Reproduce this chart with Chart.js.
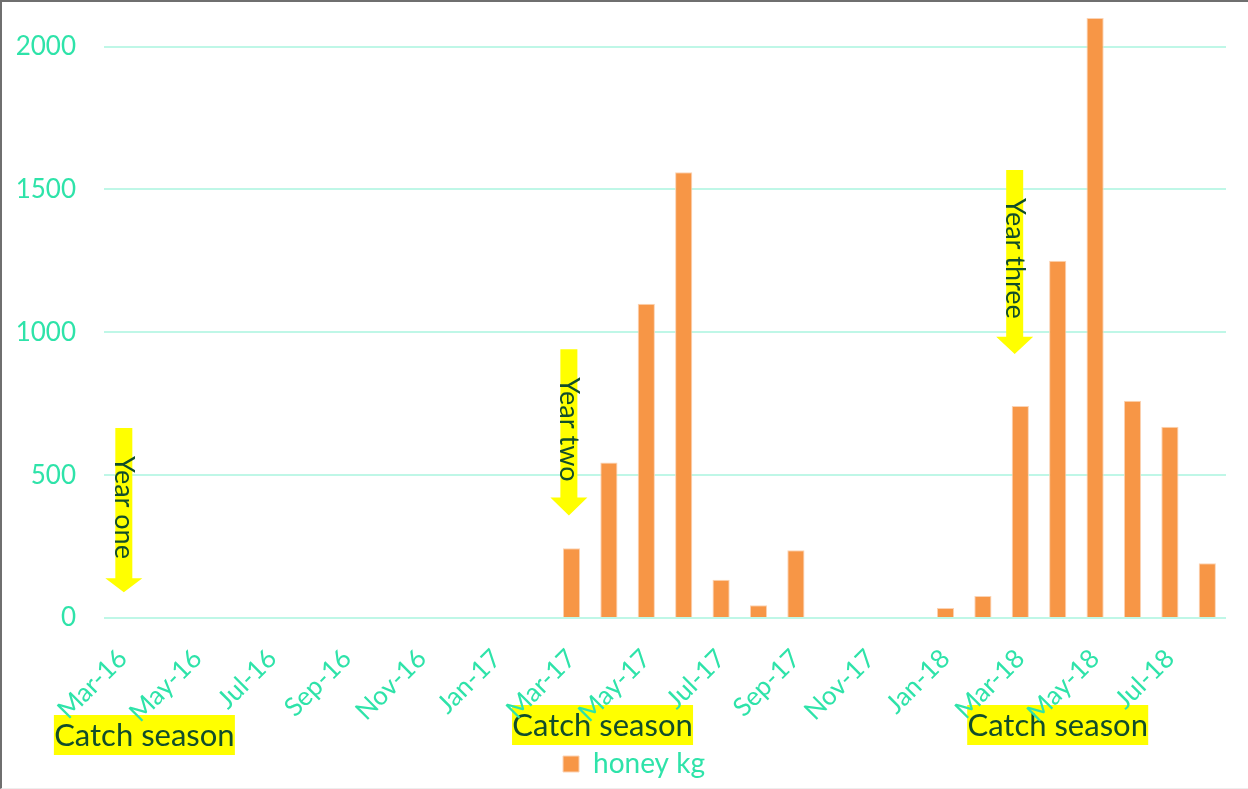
<!DOCTYPE html>
<html>
<head>
<meta charset="utf-8">
<script src="https://cdn.jsdelivr.net/npm/chart.js@4/dist/chart.umd.min.js"></script>
<style>
  html, body { margin: 0; padding: 0; background: #ffffff; }
  #wrap { position: relative; width: 1248px; height: 789px; box-sizing: border-box;
          border-top: 2px solid #6f6f6f; border-left: 2px solid #6f6f6f; border-bottom: 1px solid #eeeeee; }
  canvas { display: block; }
</style>
</head>
<body>
<div id="wrap"><canvas id="c" width="1246" height="786"></canvas></div>
<script>
// Monthly honey harvest, March 2016 to August 2018
const months = ['Mar-16','Apr-16','May-16','Jun-16','Jul-16','Aug-16','Sep-16','Oct-16','Nov-16','Dec-16','Jan-17','Feb-17',
                'Mar-17','Apr-17','May-17','Jun-17','Jul-17','Aug-17','Sep-17','Oct-17','Nov-17','Dec-17','Jan-18','Feb-18',
                'Mar-18','Apr-18','May-18','Jun-18','Jul-18','Aug-18'];
const honeyKg = [0,0,0,0,0,0,0,0,0,0,0,0,
                 244,544,1100,1560,134,45,237,0,0,0,35,77,
                 742,1250,2100,760,669,192];
const yTicks = [0, 500, 1000, 1500, 2000];

// Year markers: arrow at a month (category index), spanning values
const yearArrows = [
  { label: 'Year one',   at: 0.03,  from: 665,  headAt: 139, to: 90 },
  { label: 'Year two',   at: 11.93, from: 941,  headAt: 422, to: 359 },
  { label: 'Year three', at: 23.85, from: 1568, headAt: 984, to: 924 }
];
// Season callouts under the month axis
const seasonNotes = [
  { label: 'Catch season', at: 0.58,  drop: 97 },
  { label: 'Catch season', at: 12.83, drop: 87 },
  { label: 'Catch season', at: 25.0,  drop: 87 }
];

const TEAL = '#2ee3a9';
const GRID = '#bff7e7';
const INK  = '#114d2b';
const FONT = 'Lato, "Open Sans", sans-serif';

const annotate = {
  id: 'annotate',
  beforeDraw(chart) {
    const { ctx } = chart;
    ctx.save();
    ctx.fillStyle = '#ffffff';
    ctx.fillRect(0, 0, chart.width, chart.height);
    // season callouts sit behind the rotated month labels
    const xs = chart.scales.x;
    const base = chart.chartArea.bottom;
    ctx.font = '31px ' + FONT;
    ctx.textAlign = 'center';
    ctx.textBaseline = 'middle';
    seasonNotes.forEach(n => {
      const cx = xs.getPixelForValue(n.at);
      const w = 181, h = 40;
      const top = base + n.drop;
      ctx.fillStyle = '#ffff00';
      ctx.fillRect(cx - w / 2, top, w, h);
      ctx.fillStyle = INK;
      ctx.fillText(n.label, cx, top + h / 2 + 1);
    });
    ctx.restore();
  },
  beforeDatasetsDraw(chart) {
    const { ctx } = chart;
    const xs = chart.scales.x, ys = chart.scales.y;
    const shaft = 17, head = 37;
    ctx.save();
    yearArrows.forEach(a => {
      const cx = xs.getPixelForValue(a.at);
      const yTop = ys.getPixelForValue(a.from);
      const yHead = ys.getPixelForValue(a.headAt);
      const yTip = ys.getPixelForValue(a.to);
      ctx.fillStyle = '#ffff00';
      ctx.beginPath();
      ctx.moveTo(cx - shaft / 2, yTop);
      ctx.lineTo(cx + shaft / 2, yTop);
      ctx.lineTo(cx + shaft / 2, yHead);
      ctx.lineTo(cx + head / 2, yHead);
      ctx.lineTo(cx, yTip);
      ctx.lineTo(cx - head / 2, yHead);
      ctx.lineTo(cx - shaft / 2, yHead);
      ctx.closePath();
      ctx.fill();
      // vertical label, clipped to its text box inside the shaft
      ctx.save();
      ctx.beginPath();
      ctx.rect(cx - 30, yTop, 60, (yHead - 16) - yTop);
      ctx.clip();
      ctx.translate(cx, yTop + 28);
      ctx.rotate(Math.PI / 2);
      ctx.font = '27px ' + FONT;
      ctx.fillStyle = INK;
      ctx.textAlign = 'left';
      ctx.textBaseline = 'middle';
      ctx.fillText(a.label, 0, 0);
      ctx.restore();
    });
    ctx.restore();
  },
  afterLayout(chart) {
    // nudge the legend to the right
    chart.legend.left += 40;
  }
};

new Chart(document.getElementById('c'), {
  type: 'bar',
  data: {
    labels: months,
    datasets: [{
      label: 'honey kg',
      data: honeyKg,
      backgroundColor: '#f79646',
      borderColor: '#fbd3b4',
      borderWidth: 1,
      barPercentage: 0.46,
      categoryPercentage: 1.0
    }]
  },
  options: {
    responsive: false,
    animation: false,
    layout: { autoPadding: false, padding: { top: 16, right: 22, bottom: 0, left: 0 } },
    plugins: {
      legend: {
        position: 'bottom',
        labels: {
          color: TEAL,
          font: { family: FONT, size: 28 },
          boxWidth: 16, boxHeight: 16, padding: 10
        }
      },
      tooltip: { enabled: false }
    },
    scales: {
      x: {
        grid: { display: false },
        border: { display: false },
        ticks: {
          autoSkip: false,
          maxRotation: 45, minRotation: 45,
          color: TEAL,
          font: { family: FONT, size: 26 },
          padding: 17,
          callback: function (v, i) { return i % 2 === 0 ? months[i] : ''; }
        },
        afterFit(s) { s.height = 122; }
      },
      y: {
        min: 0, max: 2100,
        bounds: 'data',
        grid: { color: GRID, lineWidth: 2, drawTicks: false },
        border: { display: false },
        ticks: {
          stepSize: 100,
          color: TEAL, font: { family: FONT, size: 26 }, padding: 28,
          callback: v => String(v)
        },
        afterBuildTicks(s) { s.ticks = yTicks.map(v => ({ value: v })); },
        afterFit(s) { s.width = 102; s.paddingTop = 0; s.paddingBottom = 0; }
      }
    }
  },
  plugins: [annotate]
});
</script>
</body>
</html>
